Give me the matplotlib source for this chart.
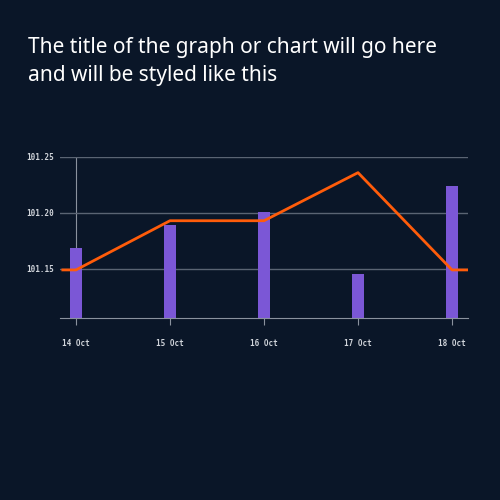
import matplotlib.pyplot as plt

# chart values
dates = ['14 Oct', '15 Oct', '16 Oct', '17 Oct', '18 Oct']
bar_values = [101.169, 101.189, 101.201, 101.145, 101.224]
line_values = [101.149, 101.193, 101.193, 101.236, 101.149]

bg = '#0a1628'
fig = plt.figure(figsize=(5, 5), dpi=100, facecolor=bg)
ax = fig.add_axes([0.12, 0.364, 0.816, 0.322], facecolor=bg)

x = list(range(len(dates)))
bottom = 101.106
ax.bar(x, [v - bottom for v in bar_values], bottom=bottom, width=0.135, color='#7b57d6', zorder=2)
# line is held flat out to the edges of the plot
lx = [-0.14] + x + [4.17]
ly = [line_values[0]] + line_values + [line_values[-1]]
ax.plot(lx, ly, color='#ff5c0a', lw=2, zorder=3)

ax.set_xlim(-0.17, 4.17)
ax.set_ylim(bottom, 101.25)
ax.set_yticks([101.15, 101.20, 101.25])
ax.set_yticklabels(['101.15', '101.20', '101.25'])
ax.set_xticks(x)
ax.set_xticklabels(dates)
ax.grid(axis='y', color='#5a6473', lw=1, zorder=1)
ax.axvline(0, color='#8a929e', lw=0.8, zorder=1)
for s in ['top', 'right', 'left']:
    ax.spines[s].set_visible(False)
ax.spines['bottom'].set_color('#8a929e')
ax.tick_params(axis='y', length=0, pad=4, labelsize=5.5, labelcolor='#d0d4da')
ax.tick_params(axis='x', length=5, color='#8a929e', pad=10, labelsize=5.5, labelcolor='#d0d4da')
for lab in ax.get_xticklabels() + ax.get_yticklabels():
    lab.set_family('DejaVu Sans Mono')
    lab.set_fontweight('bold')

fig.text(0.055, 0.927, 'The title of the graph or chart will go here\nand will be styled like this',
         color='white', fontsize=15, family='Noto Sans', fontweight='medium',
         va='top', linespacing=1.5)

fig.savefig('out.png', facecolor=bg)
